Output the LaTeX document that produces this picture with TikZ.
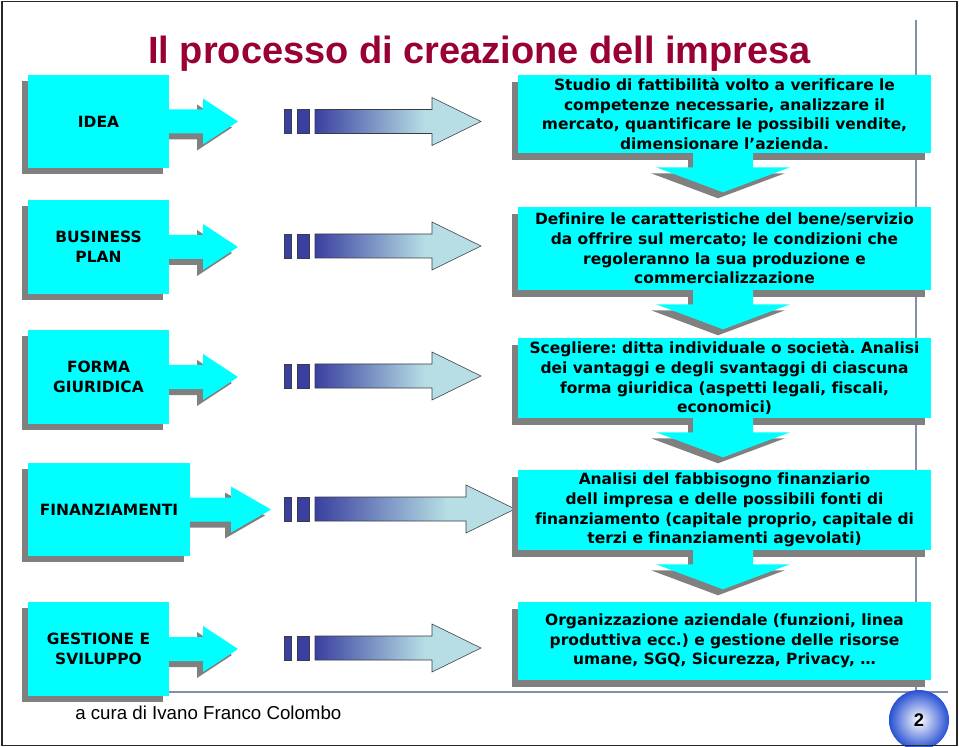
\documentclass[tikz,border=0pt]{standalone}
\usepackage{fontspec}
\setmainfont{DejaVu Sans}[Ligatures=NoCommon]
\newfontfamily\arialfont{Liberation Sans}
\usetikzlibrary{calc}
\frenchspacing
\definecolor{cyanbox}{RGB}{0,255,255}
\definecolor{shadowgray}{RGB}{128,128,128}
\definecolor{titlered}{RGB}{153,0,51}
\definecolor{linegray}{RGB}{128,145,172}
\definecolor{bardark}{RGB}{58,64,160}
\definecolor{barlight}{RGB}{182,222,228}
\definecolor{arrowline}{RGB}{60,60,70}
\definecolor{ballblue}{RGB}{40,80,210}
\definecolor{framecol}{RGB}{40,40,40}
\pgfdeclarehorizontalshading{stripeshade}{100bp}{color(0bp)=(bardark); color(25bp)=(bardark); color(58bp)=(barlight); color(100bp)=(barlight)}
\tikzset{
  lbox/.style={fill=cyanbox, inner sep=0pt, align=center, text=black,
    font=\bfseries\fontsize{11}{14}\selectfont},
  rbox/.style={fill=cyanbox, inner sep=0pt, align=center, text=black,
    font=\bfseries\fontsize{11}{14}\selectfont},
  stripebar/.style={fill=bardark, draw=arrowline, line width=0.4pt},
  stripearr/.style={shading=stripeshade, draw=arrowline, line width=0.4pt},
}
% left box with attached block arrow: name,x1,y1,x2,y2,headbase,tip,text
\newcommand\leftunit[8]{%
  \pgfmathsetmacro\myCY{(#3+#5)/2}%
  \pgfmathsetmacro\myBW{(#4-#2)*0.025*28.452756}%
  \pgfmathsetmacro\myBH{(#5-#3)*0.025*28.452756}%
  \begin{scope}[shift={(-6,6)}]
    \fill[shadowgray] (#2,#3) rectangle (#4,#5);
    \fill[shadowgray] (#4-1,\myCY-12) -- (#6,\myCY-12) -- (#6,\myCY-23) -- (#7,\myCY) -- (#6,\myCY+23) -- (#6,\myCY+12) -- (#4-1,\myCY+12) -- cycle;
  \end{scope}
  \fill[cyanbox] (#4-1,\myCY-12) -- (#6,\myCY-12) -- (#6,\myCY-23) -- (#7,\myCY) -- (#6,\myCY+23) -- (#6,\myCY+12) -- (#4-1,\myCY+12) -- cycle;
  \node[lbox, minimum width=\myBW pt, minimum height=\myBH pt] (#1) at ({(#2+#4)/2},\myCY) {#8};
}
% right box: name,x1,y1,x2,y2,text
\newcommand\rightunit[6]{%
  \pgfmathsetmacro\myBW{(#4-#2)*0.025*28.452756}%
  \pgfmathsetmacro\myBH{(#5-#3)*0.025*28.452756}%
  \fill[shadowgray] (#2-6,#3+7) rectangle (#4-6,#5+7);
  \node[rbox, minimum width=\myBW pt, minimum height=\myBH pt] (#1) at ({(#2+#4)/2},{(#3+#5)/2}) {#6};
}
% striped arrow: cy, headbase, tip
\newcommand\stripearrow[3]{%
  \filldraw[stripebar] (284,#1-12) rectangle (291,#1+12);
  \filldraw[stripebar] (297,#1-12) rectangle (309,#1+12);
  \shadedraw[stripearr] (315,#1-12) -- (#2,#1-12) -- (#2,#1-24) -- (#3,#1) -- (#2,#1+24) -- (#2,#1+12) -- (315,#1+12) -- cycle;
}
% down block arrow from a box toward the next one
\newcommand\downshape[2]{%
  ($(tmpA)+(#1-30,#2-1)$) -- ($(tmpA)+(#1+30,#2-1)$) -- ($(tmpB)+(#1+30,#2-25)$) -- ($(tmpB)+(#1+67,#2-25)$) -- ($(tmpB)+(#1,#2)$) -- ($(tmpB)+(#1-67,#2-25)$) -- ($(tmpB)+(#1-30,#2-25)$) -- cycle}
\newcommand\downblock[2]{%
  \coordinate (tmpA) at ($(#1.south)+(-1.5,0)$);
  \coordinate (tmpB) at ($(tmpA)+(0,39)$);
  \fill[shadowgray] \downshape{-5}{6};
  \fill[cyanbox] \downshape{0}{0};
}
\begin{document}
\begin{tikzpicture}[x=0.025cm, y=-0.025cm]
\useasboundingbox (0,0) rectangle (959,747);
\fill[white] (0,0) rectangle (959,747);
% frame lines
\draw[linegray, line width=0.9pt] (916,20) -- (916,692);
\draw[linegray, line width=0.9pt] (100,692) -- (948,692);
% title
\node[anchor=base west, inner sep=0pt, text=titlered, font=\arialfont\bfseries\fontsize{27}{30}\selectfont] (title) at (148,64) {Il processo di creazione dell impresa};
% left column
\leftunit{idea}{28}{75}{169}{168}{203}{238}{IDEA}
\leftunit{bp}{28}{200}{169}{294}{203}{238}{BUSINESS\\PLAN}
\leftunit{fg}{28}{330}{169}{424}{203}{238}{FORMA\\GIURIDICA}
\leftunit{fin}{28}{463}{190}{556}{231}{271}{FINANZIAMENTI}
\leftunit{gs}{28}{602}{169}{696}{203}{238}{GESTIONE E\\SVILUPPO}
% striped arrows
\stripearrow{121.5}{432}{481}
\stripearrow{246}{432}{481}
\stripearrow{376}{432}{481}
\stripearrow{509}{466}{515}
\stripearrow{648}{432}{481}
% right column
\rightunit{r1}{518}{75}{931}{153}{Studio di fattibilità volto a verificare le\\competenze necessarie, analizzare il\\mercato, quantificare le possibili vendite,\\dimensionare l’azienda.}
\rightunit{r2}{518}{207}{931}{290}{Definire le caratteristiche del bene/servizio\\da offrire sul mercato; le condizioni che\\regoleranno la sua produzione e\\commercializzazione}
\rightunit{r3}{518}{338}{931}{418}{Scegliere: ditta individuale o società. Analisi\\dei vantaggi e degli svantaggi di ciascuna\\forma giuridica (aspetti legali, fiscali,\\economici)}
\rightunit{r4}{518}{470}{931}{550}{Analisi del fabbisogno finanziario\\dell impresa e delle possibili fonti di\\finanziamento (capitale proprio, capitale di\\terzi e finanziamenti agevolati)}
\rightunit{r5}{518}{602}{931}{680}{Organizzazione aziendale (funzioni, linea\\produttiva ecc.) e gestione delle risorse\\umane, SGQ, Sicurezza, Privacy, …}
% down arrows
\downblock{r1}{r2}
\downblock{r2}{r3}
\downblock{r3}{r4}
\downblock{r4}{r5}
% footer
\node[anchor=base west, inner sep=0pt, font=\arialfont\fontsize{13.3}{15}\selectfont] (credit) at (75,719) {a cura di Ivano Franco Colombo};
\node[circle, minimum size=1.5cm, inner sep=0pt, shading=radial, inner color=white, outer color=ballblue, font=\arialfont\bfseries\fontsize{13}{15}\selectfont] (page) at (919,720) {2};
% outer frame
\draw[framecol, line width=1.2pt] (2,1.5) rectangle (957,745.5);
\end{tikzpicture}
\end{document}
